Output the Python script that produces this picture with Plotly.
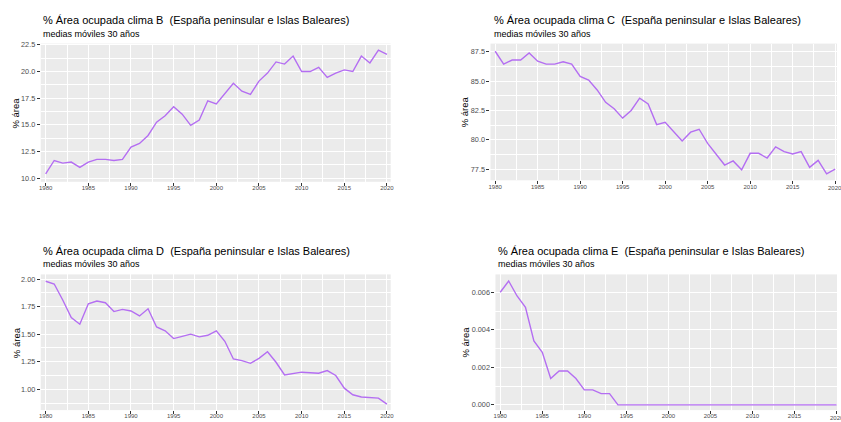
import plotly.graph_objects as go

years = [1980, 1981, 1982, 1983, 1984, 1985, 1986, 1987, 1988, 1989,
         1990, 1991, 1992, 1993, 1994, 1995, 1996, 1997, 1998, 1999,
         2000, 2001, 2002, 2003, 2004, 2005, 2006, 2007, 2008, 2009,
         2010, 2011, 2012, 2013, 2014, 2015, 2016, 2017, 2018, 2019, 2020]

clima_b = [10.4, 11.65, 11.4, 11.5, 11.0, 11.5, 11.75, 11.75, 11.65, 11.75,
           12.9, 13.25, 14.0, 15.25, 15.85, 16.7, 16.0, 14.95, 15.45, 17.25,
           16.95, 17.9, 18.9, 18.15, 17.85, 19.1, 19.85, 20.9, 20.7, 21.45,
           20.0, 20.0, 20.4, 19.45, 19.85, 20.15, 20.0, 21.45, 20.8, 22.0, 21.6]

clima_c = [87.55, 86.45, 86.8, 86.8, 87.4, 86.7, 86.45, 86.45, 86.65, 86.45,
           85.4, 85.1, 84.25, 83.2, 82.65, 81.85, 82.5, 83.55, 83.05, 81.3,
           81.5, 80.7, 79.9, 80.65, 80.9, 79.7, 78.75, 77.85, 78.2, 77.45,
           78.85, 78.85, 78.45, 79.4, 79.0, 78.8, 79.0, 77.65, 78.25, 77.1, 77.5]

clima_d = [1.98, 1.955, 1.81, 1.65, 1.59, 1.775, 1.80, 1.785, 1.705, 1.725,
           1.71, 1.665, 1.73, 1.565, 1.53, 1.46, 1.48, 1.50, 1.475, 1.49,
           1.53, 1.435, 1.275, 1.26, 1.235, 1.28, 1.34, 1.245, 1.13, 1.145,
           1.155, 1.15, 1.145, 1.17, 1.125, 1.01, 0.95, 0.93, 0.925, 0.92, 0.865]

clima_e = [0.0060, 0.0066, 0.0058, 0.0052, 0.0034, 0.0028, 0.0014, 0.0018, 0.0018, 0.0014,
           0.0008, 0.0008, 0.0006, 0.0006, 0.0, 0.0, 0.0, 0.0, 0.0, 0.0,
           0.0, 0.0, 0.0, 0.0, 0.0, 0.0, 0.0, 0.0, 0.0, 0.0,
           0.0, 0.0, 0.0, 0.0, 0.0, 0.0, 0.0, 0.0, 0.0, 0.0, 0.0]

x_ticks = [1980, 1985, 1990, 1995, 2000, 2005, 2010, 2015, 2020]
b_ticks = [10.0, 12.5, 15.0, 17.5, 20.0, 22.5]
b_labels = ["10.0", "12.5", "15.0", "17.5", "20.0", "22.5"]
c_ticks = [77.5, 80.0, 82.5, 85.0, 87.5]
c_labels = ["77.5", "80.0", "82.5", "85.0", "87.5"]
d_ticks = [1.00, 1.25, 1.50, 1.75, 2.00]
d_labels = ["1.00", "1.25", "1.50", "1.75", "2.00"]
e_ticks = [0.000, 0.002, 0.004, 0.006]
e_labels = ["0.000", "0.002", "0.004", "0.006"]

titles = ["% Área ocupada clima B \u00a0(España peninsular e Islas Baleares)",
          "% Área ocupada clima C \u00a0(España peninsular e Islas Baleares)",
          "% Área ocupada clima D \u00a0(España peninsular e Islas Baleares)",
          "% Área ocupada clima E \u00a0(España peninsular e Islas Baleares)"]
subtitle = "medias móviles 30 años"
y_title = "% área"

W, H = 841, 422
FONT = "Liberation Sans, Arial, sans-serif"
LINE = "#b46ef2"


def fx(p):
    return p / W


def fy(p):
    return 1 - p / H


panels = [
    dict(data=clima_b, ticks=b_ticks, labels=b_labels, xd=(39, 391.5), yd=(41, 180.5),
         xr=(1979.42, 2020.44), yr=(9.65, 22.62), tx=39.3, ty=16.8, sy=30.8, yx=14,
         minor=1.25, clip=False, ly=186.5),
    dict(data=clima_c, ticks=c_ticks, labels=c_labels, xd=(492, 841), yd=(41, 179),
         xr=(1979.45, 2020.22), yr=(76.55, 88.2), tx=493.3, ty=16.8, sy=30.8, yx=466.7,
         minor=1.25, clip=True, ly=186.5),
    dict(data=clima_d, ticks=d_ticks, labels=d_labels, xd=(39, 391.5), yd=(274, 411),
         xr=(1979.42, 2020.44), yr=(0.811, 2.042), tx=39.3, ty=250.2, sy=263.5, yx=14,
         minor=0.125, clip=False, ly=418.5),
    dict(data=clima_e, ticks=e_ticks, labels=e_labels, xd=(497, 841), yd=(274, 411),
         xr=(1979.43, 2020.05), yr=(-0.00028, 0.00695), tx=497.3, ty=250.2, sy=263.5, yx=466.7,
         minor=0.001, clip=True, ly=418.5),
]

fig = go.Figure()
annotations = []
layout = {}

for i, p in enumerate(panels):
    n = "" if i == 0 else str(i + 1)
    fig.add_trace(go.Scatter(
        x=years, y=p["data"], mode="lines",
        line=dict(color=LINE, width=1.4),
        xaxis="x" + n, yaxis="y" + n, showlegend=False, hoverinfo="x+y"))
    xt = [str(t) for t in x_ticks]
    if p["clip"]:
        # last label sits on the clipped right edge: draw it at its axis position
        xt[-1] = ""
        annotations.append(dict(text=str(x_ticks[-1]), x=x_ticks[-1], xref="x" + n,
                                y=fy(p["ly"]), yref="paper", xanchor="center", yanchor="middle",
                                showarrow=False,
                                font=dict(family=FONT, size=6, color="#4d4d4d")))
    layout["xaxis" + n] = dict(
        domain=[fx(p["xd"][0]), fx(p["xd"][1])], range=list(p["xr"]),
        anchor="y" + n, tickvals=x_ticks, ticktext=xt,
        ticks="outside", ticklen=3, tickwidth=0.7, tickcolor="#333333",
        tickfont=dict(family=FONT, size=6, color="#4d4d4d"), ticklabelstandoff=-3,
        ticklabeloverflow="allow",
        showgrid=True, gridcolor="white", gridwidth=1.1,
        minor=dict(dtick=2.5, tick0=1977.5, showgrid=True, gridcolor="white", gridwidth=0.5, ticks=""),
        zeroline=False, showline=False, fixedrange=True)
    layout["yaxis" + n] = dict(
        domain=[fy(p["yd"][1]), fy(p["yd"][0])], range=list(p["yr"]),
        anchor="x" + n, tickvals=p["ticks"], ticktext=p["labels"],
        ticks="outside", ticklen=3, tickwidth=0.7, tickcolor="#333333",
        tickfont=dict(family=FONT, size=7.3, color="#4d4d4d"),
        showgrid=True, gridcolor="white", gridwidth=1.1,
        minor=dict(dtick=p["minor"], tick0=p["ticks"][0] - p["minor"], showgrid=True,
                   gridcolor="white", gridwidth=0.5, ticks=""),
        zeroline=False, showline=False, fixedrange=True)
    annotations.append(dict(text=titles[i], x=fx(p["tx"]), y=fy(p["ty"]), xref="paper", yref="paper",
                            xanchor="left", yanchor="middle", showarrow=False,
                            font=dict(family=FONT, size=11, color="#000000")))
    annotations.append(dict(text=subtitle, x=fx(p["tx"]), y=fy(p["sy"]), xref="paper", yref="paper",
                            xanchor="left", yanchor="middle", showarrow=False,
                            font=dict(family=FONT, size=9, color="#000000")))
    annotations.append(dict(text=y_title, x=fx(p["yx"]), y=fy((p["yd"][0] + p["yd"][1]) / 2),
                            xref="paper", yref="paper", xanchor="center", yanchor="middle",
                            textangle=-90, showarrow=False,
                            font=dict(family=FONT, size=9.5, color="#000000")))

fig.update_layout(
    width=W, height=H, margin=dict(l=0, r=0, t=0, b=0),
    paper_bgcolor="white", plot_bgcolor="#ebebeb",
    annotations=annotations, showlegend=False, **layout)

fig.write_html("out.html", config={"displayModeBar": False},
               post_script="document.body.style.margin='0px';document.body.style.overflow='hidden';")
